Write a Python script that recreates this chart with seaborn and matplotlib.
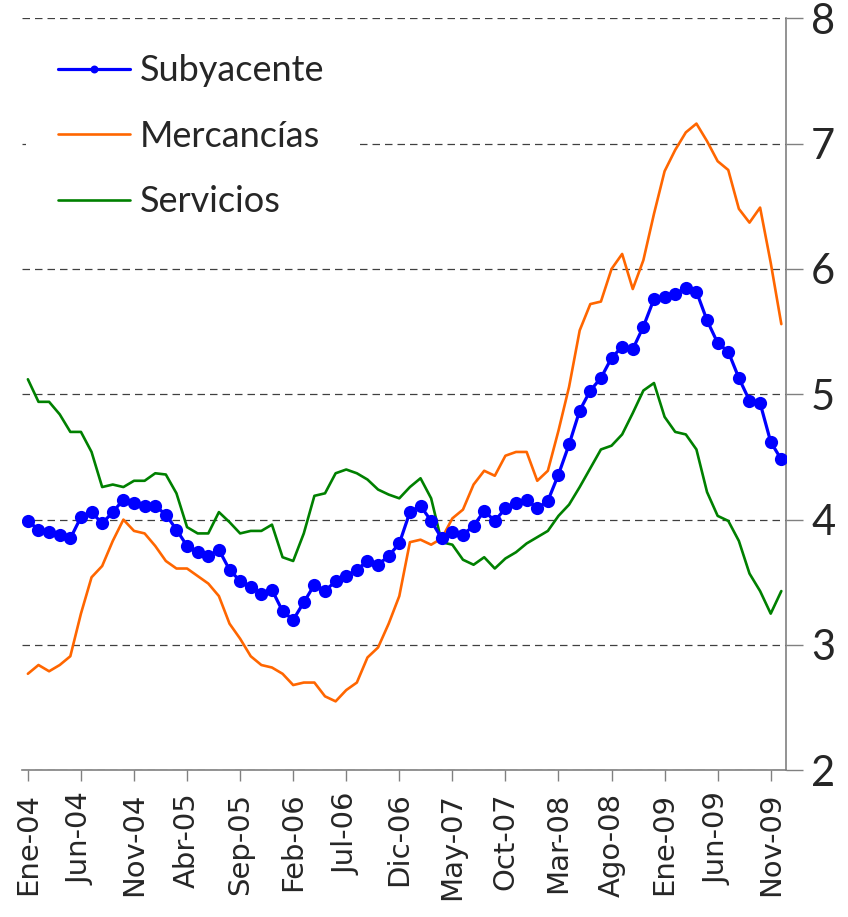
import pandas as pd
import matplotlib.pyplot as plt
import seaborn as sns

# Monthly series, Ene-04 .. Dic-09
meses = ["Ene", "Feb", "Mar", "Abr", "May", "Jun", "Jul", "Ago", "Sep", "Oct", "Nov", "Dic"]
fechas = [f"{m}-{a:02d}" for a in range(4, 10) for m in meses]

subyacente = [3.99, 3.92, 3.90, 3.88, 3.85, 4.02, 4.06, 3.97, 4.06, 4.16, 4.13, 4.11,
              4.11, 4.04, 3.92, 3.79, 3.74, 3.71, 3.76, 3.60, 3.51, 3.46, 3.41, 3.44,
              3.27, 3.20, 3.34, 3.48, 3.43, 3.51, 3.55, 3.60, 3.67, 3.64, 3.71, 3.81,
              4.06, 4.11, 3.99, 3.85, 3.90, 3.88, 3.95, 4.07, 3.99, 4.09, 4.13, 4.16,
              4.09, 4.15, 4.36, 4.60, 4.87, 5.03, 5.13, 5.29, 5.38, 5.36, 5.54, 5.76,
              5.78, 5.80, 5.85, 5.82, 5.59, 5.41, 5.34, 5.13, 4.95, 4.93, 4.62, 4.48]
mercancias = [2.77, 2.84, 2.79, 2.84, 2.91, 3.25, 3.54, 3.63, 3.83, 4.00, 3.91, 3.89,
              3.79, 3.67, 3.61, 3.61, 3.55, 3.49, 3.39, 3.17, 3.05, 2.91, 2.84, 2.82,
              2.77, 2.68, 2.70, 2.70, 2.59, 2.55, 2.64, 2.70, 2.90, 2.98, 3.17, 3.39,
              3.82, 3.84, 3.80, 3.85, 4.01, 4.08, 4.28, 4.39, 4.35, 4.51, 4.54, 4.54,
              4.31, 4.39, 4.71, 5.06, 5.51, 5.72, 5.74, 6.00, 6.12, 5.84, 6.07, 6.44,
              6.78, 6.95, 7.09, 7.16, 7.02, 6.86, 6.79, 6.48, 6.37, 6.49, 6.05, 5.56]
servicios = [5.12, 4.94, 4.94, 4.84, 4.70, 4.70, 4.54, 4.26, 4.28, 4.26, 4.31, 4.31,
             4.37, 4.36, 4.21, 3.94, 3.89, 3.89, 4.06, 3.98, 3.89, 3.91, 3.91, 3.96,
             3.70, 3.67, 3.89, 4.19, 4.21, 4.37, 4.40, 4.37, 4.32, 4.24, 4.20, 4.17,
             4.26, 4.33, 4.17, 3.82, 3.80, 3.68, 3.64, 3.70, 3.61, 3.69, 3.74, 3.81,
             3.86, 3.91, 4.03, 4.12, 4.26, 4.41, 4.56, 4.59, 4.68, 4.85, 5.03, 5.09,
             4.82, 4.70, 4.68, 4.56, 4.22, 4.03, 3.99, 3.83, 3.57, 3.43, 3.25, 3.43]

df = pd.DataFrame({"idx": range(len(fechas)), "fecha": fechas,
                   "Subyacente": subyacente, "Mercancías": mercancias,
                   "Servicios": servicios})

sns.set_style("white")
plt.rcParams["font.family"] = ["Lato", "DejaVu Sans"]

fig = plt.figure(figsize=(8.48, 9.17), dpi=100)
ax = fig.add_axes([0.026, 0.160, 0.901, 0.820])

sns.lineplot(data=df, x="idx", y="Subyacente", ax=ax, color="#0000FF", lw=2.3,
             marker="o", markersize=9.5, markeredgewidth=0, label="Subyacente", zorder=4)
sns.lineplot(data=df, x="idx", y="Mercancías", ax=ax, color="#FF6600", lw=1.9,
             label="Mercancías", zorder=3)
sns.lineplot(data=df, x="idx", y="Servicios", ax=ax, color="#008000", lw=1.9,
             label="Servicios", zorder=3)

ax.set_xlim(-0.55, 71.45)
ax.set_ylim(2, 8)
ax.set_xlabel("")
ax.set_ylabel("")

# y axis on the right
ax.yaxis.tick_right()
ax.set_yticks(range(2, 9))
ax.tick_params(axis="y", which="major", right=True, length=12, width=1, color="#808080",
               labelsize=30, pad=6)
ax.yaxis.grid(True, linestyle=(0, (6, 4)), color="#404040", lw=0.9)
ax.set_axisbelow(True)

# x axis: labels every 5 months
pos = list(range(0, 72, 5))
ax.set_xticks(pos)
ax.set_xticklabels([fechas[p] for p in pos], rotation=90, fontsize=21,
                   family="DejaVu Sans")
ax.tick_params(axis="x", which="major", bottom=True, length=8, width=1,
               color="#808080", pad=8)

for side in ["left", "top"]:
    ax.spines[side].set_visible(False)
for side in ["right", "bottom"]:
    ax.spines[side].set_color("#808080")
    ax.spines[side].set_linewidth(1.2)

leg = ax.legend(loc="upper left", bbox_to_anchor=(0.0, 1.0), fontsize=26,
                frameon=True, facecolor="white", edgecolor="none", framealpha=1,
                handlelength=2.0, handletextpad=0.25, labelspacing=0.9,
                borderaxespad=0.1, markerscale=0.6, borderpad=0.9)
leg.set_zorder(5)

fig.savefig("out.png", dpi=100)
plt.close(fig)
